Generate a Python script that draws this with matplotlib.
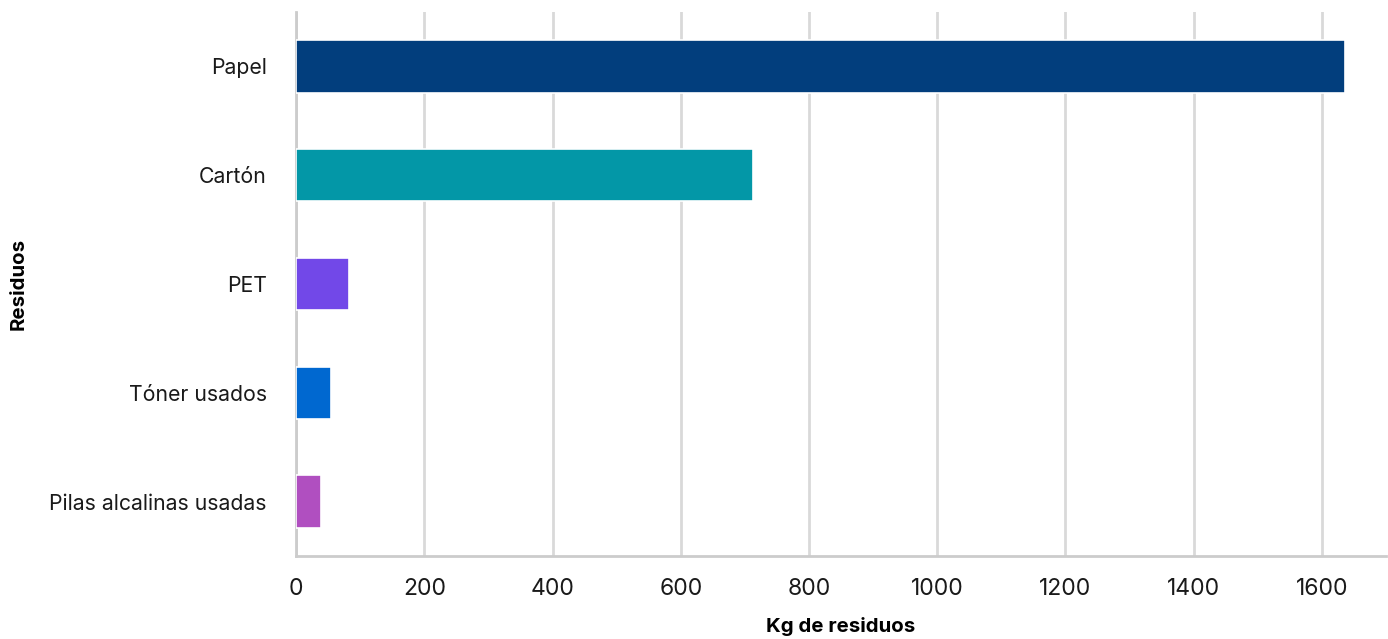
import matplotlib
matplotlib.use('Agg')
import matplotlib.pyplot as plt

# datos
categorias = ['Papel', 'Cartón', 'PET', 'Tóner usados', 'Pilas alcalinas usadas']
kg_residuos = [1636, 712, 82, 54, 39]
colores = ['#023e7d', '#0397a7', '#7248e8', '#0068d0', '#b04fc0']
ticks_x = [0, 200, 400, 600, 800, 1000, 1200, 1400, 1600]

plt.rcParams['font.family'] = ['Inter', 'DejaVu Sans']

fig = plt.figure(figsize=(13.88, 6.39), dpi=100)
ax = fig.add_axes([0.2133, 0.1299, 0.7853, 0.8513])

y_pos = list(range(len(categorias)))
ax.barh(y_pos, kg_residuos, height=0.48, color=colores,
        edgecolor='white', linewidth=1.2, zorder=3)

ax.set_ylim(len(categorias) - 0.5, -0.5)
ax.set_xlim(0, 1700)
ax.set_yticks(y_pos)
ax.set_yticklabels(categorias, fontsize=15.3, color='#1a1a1a')
ax.set_xticks(ticks_x)
ax.set_xticklabels([str(t) for t in ticks_x], fontsize=16.5, color='#1a1a1a')
ax.tick_params(axis='y', length=0, pad=21)
ax.tick_params(axis='x', length=0, pad=16)

ax.grid(True, axis='x', color='#d9d9d9', linewidth=2, zorder=0)
for s in ['top', 'right']:
    ax.spines[s].set_visible(False)
for s in ['left', 'bottom']:
    ax.spines[s].set_color('#cccccc')
    ax.spines[s].set_linewidth(2)

ax.set_xlabel('Kg de residuos', fontsize=14.7, fontweight='bold')
ax.xaxis.set_label_coords(0.5, -0.112)
ax.set_ylabel('Residuos', fontsize=14.7, fontweight='bold')
ax.yaxis.set_label_coords(-0.246, 0.5)

fig.savefig('out.png', dpi=100, facecolor='white')
